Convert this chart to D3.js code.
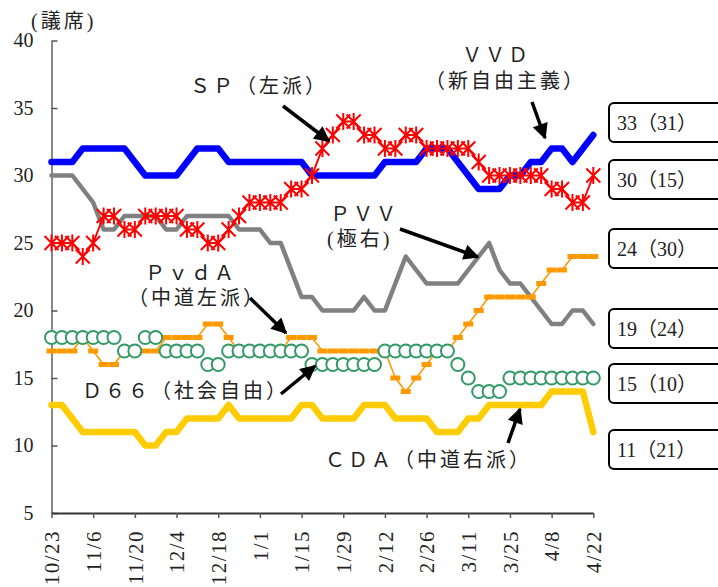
<!DOCTYPE html>
<html>
<head>
<meta charset="utf-8">
<script src="https://cdn.jsdelivr.net/npm/d3@7"></script>
<style>
body { margin: 0; background: #fff; }
text { font-family: "Liberation Serif", "Noto Sans CJK JP", serif; fill: #222; }
</style>
</head>
<body>
<svg width="718" height="587"></svg>
<script>
// tick labels (every 2 weeks), data points every half week
var tickLabels = ["10/23","11/6","11/20","12/4","12/18","1/1","1/15","1/29","2/12","2/26","3/11","3/25","4/8","4/22"];
var vvd  = [31,31,31,32,32,32,32,32,31,30,30,30,30,31,32,32,32,31,31,31,31,31,31,31,31,30,30,30,30,30,30,30,31,31,31,31,32,32,32,31,30,29,29,29,30,30,31,31,32,32,31,32,33];
var sp   = [25,25,25,24,25,27,27,26,26,27,27,27,27,26,26,25,25,26,27,28,28,28,28,29,29,30,32,33,34,34,33,33,32,32,33,33,32,32,32,32,32,31,30,30,30,30,30,30,29,29,28,28,30];
var pvv  = [30,30,30,29,28,26,26,27,27,27,27,26,26,27,27,27,27,27,26,26,26,25,25,23,21,21,20,20,20,20,21,20,20,22,24,23,22,22,22,22,23,24,25,23,22,22,21,20,19,19,20,20,19];
var pvda = [17,17,17,18,17,16,16,17,17,17,17,18,18,18,18,19,19,18,17,17,17,17,17,18,18,18,17,17,17,17,17,17,17,15,14,15,16,17,17,18,19,20,21,21,21,21,21,22,23,23,24,24,24];
var d66  = [18,18,18,18,18,18,18,17,17,18,18,17,17,17,17,16,16,17,17,17,17,17,17,17,17,16,16,16,16,16,16,16,17,17,17,17,17,17,17,16,15,14,14,14,15,15,15,15,15,15,15,15,15];
var cda  = [13,13,12,11,11,11,11,11,11,10,10,11,11,12,12,12,12,13,12,12,12,12,12,12,13,13,12,12,12,12,13,13,13,12,12,12,12,11,11,11,12,12,13,13,13,13,13,13,14,14,14,14,11];
var yTicks = [5,10,15,20,25,30,35,40];
var results = ["33（31）","30（15）","24（30）","19（24）","15（10）","11（21）"];

var svg = d3.select('svg');

// x = days since 10/23, one point every 3.5 days
var xs = d3.scaleLinear().domain([0, 182]).range([51.5, 593.3]);
var ys = d3.scaleLinear().domain([5, 40]).range([513, 40.5]);
function px(d, i) { return xs(i * 3.5); }

// y axis
var yAxis = svg.append('g')
  .attr('transform', 'translate(51.5,0)')
  .call(d3.axisLeft(ys).tickValues(yTicks).tickSize(-6).tickSizeOuter(0).tickPadding(18));
yAxis.select('.domain').attr('stroke', '#888').attr('stroke-width', 2);
yAxis.selectAll('.tick line').attr('stroke', '#555').attr('stroke-width', 1.5);
yAxis.selectAll('.tick text').attr('font-size', 20).attr('fill', '#222')
  .style('font-family', '"Liberation Serif", serif');

// x axis
var xAxis = svg.append('g')
  .attr('transform', 'translate(0,513)')
  .call(d3.axisBottom(xs).tickValues(d3.range(0, 183, 14)).tickSize(5).tickSizeOuter(0)
    .tickFormat(function(d, i) { return tickLabels[i]; }));
xAxis.select('.domain').attr('stroke', '#333').attr('stroke-width', 2);
xAxis.selectAll('.tick line').attr('stroke', '#555').attr('stroke-width', 1.5);
xAxis.selectAll('.tick text')
  .attr('font-size', 21).attr('fill', '#222')
  .attr('letter-spacing', 1.5)
  .style('font-family', '"Liberation Serif", serif')
  .attr('transform', 'rotate(-90)')
  .attr('text-anchor', 'end')
  .attr('x', -17).attr('y', 0).attr('dy', '0.35em');

svg.append('text').attr('x', 31).attr('y', 28).attr('font-size', 20)
  .attr('letter-spacing', 3).text('(議席)');

var line = d3.line().x(px).y(function(d) { return ys(d); });

function drawLine(data, color, width) {
  svg.append('path').datum(data)
    .attr('d', line)
    .attr('fill', 'none')
    .attr('stroke', color)
    .attr('stroke-width', width)
    .attr('stroke-linejoin', 'round')
    .attr('stroke-linecap', 'round');
}

drawLine(pvv, '#808080', 4.5);
drawLine(vvd, '#0000ff', 6.5);
drawLine(cda, '#ffcc00', 6.5);

// PvdA: thin line + dash markers
drawLine(pvda, '#ff9900', 1.6);
svg.append('g').selectAll('rect').data(pvda).enter().append('rect')
  .attr('x', function(d, i) { return px(d, i) - 5; })
  .attr('y', function(d) { return ys(d) - 2.5; })
  .attr('width', 10).attr('height', 5)
  .attr('fill', '#ff9900');

// D66: hollow circles
svg.append('g').selectAll('circle').data(d66).enter().append('circle')
  .attr('cx', px)
  .attr('cy', function(d) { return ys(d); })
  .attr('r', 6.5)
  .attr('fill', '#fff')
  .attr('stroke', '#339966')
  .attr('stroke-width', 2);

// SP: line + star markers
drawLine(sp, '#ff0000', 2);
var star = 'M-7,-7L7,7M-7,7L7,-7M0,-8.5L0,8.5';
svg.append('g').selectAll('path').data(sp).enter().append('path')
  .attr('d', star)
  .attr('transform', function(d, i) { return 'translate(' + px(d, i) + ',' + ys(d) + ')'; })
  .attr('fill', 'none')
  .attr('stroke', '#ff0000')
  .attr('stroke-width', 2);

// annotation labels
var labels = [
  [190, 93, 'ＳＰ（左派）'],
  [462, 62, 'ＶＶＤ'],
  [425, 88, '（新自由主義）'],
  [330, 221, 'ＰＶＶ'],
  [327, 246, '(極右)'],
  [145, 280, 'ＰｖｄＡ'],
  [128, 305, '（中道左派）'],
  [82, 398, 'Ｄ６６（社会自由）'],
  [325, 467, 'ＣＤＡ（中道右派）']
];
svg.append('g').selectAll('text').data(labels).enter().append('text')
  .attr('x', function(d) { return d[0]; })
  .attr('y', function(d) { return d[1]; })
  .attr('font-size', 20)
  .attr('letter-spacing', 3)
  .text(function(d) { return d[2]; });

// arrows
svg.append('defs').append('marker')
  .attr('id', 'head').attr('viewBox', '0 0 10 10')
  .attr('refX', 9).attr('refY', 5)
  .attr('markerWidth', 5).attr('markerHeight', 4.5)
  .attr('markerUnits', 'strokeWidth')
  .attr('orient', 'auto')
  .append('path').attr('d', 'M0,0L10,5L0,10Z').attr('fill', '#000');

var arrows = [
  [283, 106, 329, 141],
  [532, 102, 545, 138],
  [400, 229, 478, 257],
  [250, 298, 286, 333],
  [281, 394, 315, 366],
  [508, 443, 520, 409]
];
svg.append('g').selectAll('line').data(arrows).enter().append('line')
  .attr('x1', function(d) { return d[0]; })
  .attr('y1', function(d) { return d[1]; })
  .attr('x2', function(d) { return d[2]; })
  .attr('y2', function(d) { return d[3]; })
  .attr('stroke', '#000')
  .attr('stroke-width', 3.5)
  .attr('marker-end', 'url(#head)');

// result boxes on the right
var boxTop = [103, 160, 229, 309, 364, 430];
var boxes = svg.append('g').selectAll('g').data(results).enter().append('g')
  .attr('transform', function(d, i) { return 'translate(609,' + boxTop[i] + ')'; });
boxes.append('rect')
  .attr('width', 200).attr('height', 39).attr('rx', 5)
  .attr('fill', '#fff').attr('stroke', '#000').attr('stroke-width', 2);
boxes.append('text')
  .attr('x', 8).attr('y', 27)
  .attr('font-size', 20)
  .text(function(d) { return d; });
</script>
</body>
</html>
